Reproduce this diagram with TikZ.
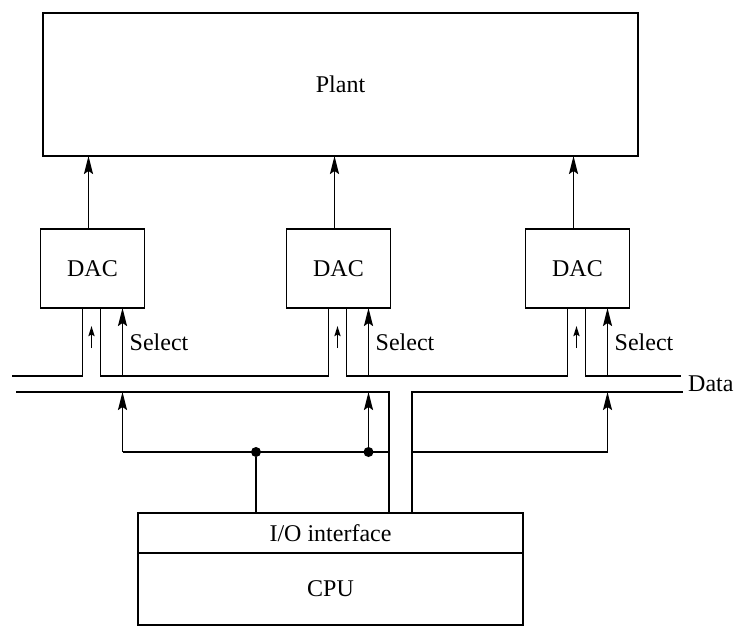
\documentclass[tikz,border=0pt]{standalone}
\usepackage{fontspec}
\setmainfont{Liberation Serif}
\usetikzlibrary{arrows.meta,positioning,calc}
\tikzset{blk/.style={draw,line width=1.8pt,inner sep=0pt,outer sep=0pt},
 dac/.style={blk,minimum width=104pt,minimum height=79pt},
 wire/.style={line width=1.8pt},
 arr/.style={wire,-{Stealth[length=18pt,width=9pt,inset=3pt]}},
 tiny/.style={wire,-{Stealth[length=10pt,width=6pt,inset=1.5pt]}},
 dot/.style={circle,fill,inner sep=0pt,minimum size=10pt},
 every node/.style={font=\fontsize{24}{28}\selectfont}}
\begin{document}
\begin{tikzpicture}[x=1pt,y=-1pt]
\useasboundingbox (0,0) rectangle (740,627);
\node[blk,minimum width=595pt,minimum height=143pt] (plant) at (340.5,84.5) {Plant};
\foreach \n/\x in {1/92.5,2/338.5,3/577.5}{\node[dac] (dac\n) at (\x,268.5) {DAC};}
\node[blk,minimum width=385pt,minimum height=40pt] (io) at (330.5,533) {I/O interface};
\node[blk,minimum width=385pt,minimum height=72pt,anchor=north] (cpu) at (io.south) {CPU};
% bus levels
\coordinate (ub) at (0,376);\coordinate (lb) at (0,392);\coordinate (sl) at (0,452);
\coordinate (ubs) at (12,376);\coordinate (ube) at (681,376);
\coordinate (lbs) at (16,392);\coordinate (lbe) at (683,392);
\coordinate (busl) at (389,513);\coordinate (busr) at (412,513);
\node[anchor=west,inner sep=1pt] (data) at (687,384) {Data};
% DAC outputs to plant
\foreach \n in {1,2,3}{\draw[arr] ([xshift=-4pt]dac\n.north) -- ([xshift=-4pt]dac\n.north |- plant.south);}
% upper data line
\draw[wire] (ubs) -| ([xshift=-10pt]dac1.south);
\draw[wire] ([xshift=8pt]dac1.south) |- ([xshift=-10pt]dac2.south |- ub) -- ([xshift=-10pt]dac2.south);
\draw[wire] ([xshift=8pt]dac2.south) |- ([xshift=-10pt]dac3.south |- ub) -- ([xshift=-10pt]dac3.south);
\draw[wire] ([xshift=8pt]dac3.south) |- (ube);
% lower data line
\draw[wire] (lbs) -| (busl);
\draw[wire] (busr) |- (lbe);
% data into DACs and select lines
\foreach \n in {1,2,3}{
 \draw[tiny] ([xshift=-1pt,yshift=-40pt]dac\n.south) -- ([xshift=-1pt,yshift=-18pt]dac\n.south);
 \draw[arr] ([xshift=30pt]dac\n.south |- ub) -- ([xshift=30pt]dac\n.south);
 \draw[arr] ([xshift=30pt]dac\n.south |- sl) -- ([xshift=30pt]dac\n.south |- lb);
 \node[anchor=west,inner sep=1pt] (sel\n) at ([xshift=36pt,yshift=-34pt]dac\n.south) {Select};}
\node[dot] (j1) at (256,452) {};
\node[dot] (j2) at ([xshift=30pt]dac2.south |- sl) {};
\draw[wire] ([xshift=30pt]dac1.south |- sl) -- (busl |- sl);
\draw[wire] (j1) -- (j1 |- io.north);
\draw[wire] (busr |- sl) -- ([xshift=30pt]dac3.south |- sl);
\end{tikzpicture}
\end{document}
